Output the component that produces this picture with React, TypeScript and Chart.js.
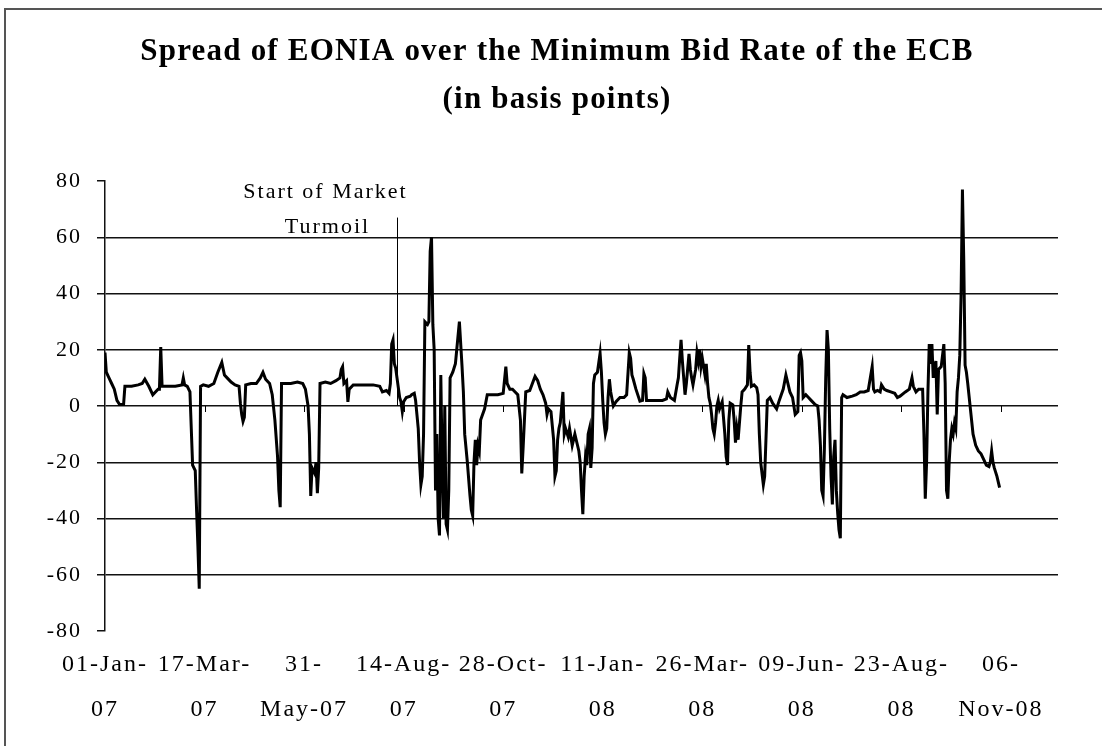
import React, { useEffect, useRef } from "react";
import { Chart, registerables } from "chart.js";

Chart.register(...registerables);

const SERIF = '"Liberation Serif", "Times New Roman", Times, serif';

const chartTitle = ["Spread of EONIA over the Minimum Bid Rate of the ECB", "(in basis points)"];

// days since 01-Jan-2007
const tickDays = [0, 75, 150, 225, 300, 375, 450, 525, 600, 675];
const tickLabels = [
  ["01-Jan-", "07"],
  ["17-Mar-", "07"],
  ["31-", "May-07"],
  ["14-Aug-", "07"],
  ["28-Oct-", "07"],
  ["11-Jan-", "08"],
  ["26-Mar-", "08"],
  ["09-Jun-", "08"],
  ["23-Aug-", "08"],
  ["06-", "Nov-08"],
];
const yMin = -80;
const yMax = 80;
const yStep = 20;
const xMaxDay = 718;

const annotationText = ["Start of Market", "Turmoil"];
const turmoilDay = 220; // 09-Aug-07
const turmoilTop = 67;

// [day since 01-Jan-2007, spread in basis points]
const spread2007: [number, number][] = [
  [0, 19], [1, 12], [3, 10], [5, 8], [7, 6], [9, 2], [11, 0.5], [14, 0.5], [15, 7], [20, 7],
  [25, 7.5], [28, 8], [30, 9.5], [33, 7], [36, 4], [38, 5], [40, 6], [41, 6], [42, 21], [43, 7],
  [48, 7], [53, 7], [58, 7.5], [59, 10], [60, 7.5], [62, 7], [64, 5], [65, -8], [66, -21], [68, -23],
  [69, -37], [70, -50], [71, -65], [72, 7], [74, 7.5], [78, 7], [82, 8], [85, 12], [88, 15.5], [90, 11],
  [92, 10], [95, 8.5], [98, 7.5], [101, 7], [102, 1], [103, -3], [104, -5.5], [105, -4], [106, 7.5], [110, 8],
  [114, 8], [117, 10], [119, 12], [121, 9.5], [124, 8], [126, 4], [128, -5], [130, -18], [131, -30], [132, -36],
  [133, 8], [136, 8], [140, 8], [145, 8.5], [149, 8], [151, 6], [153, 0], [154, -10], [155, -32], [156, -22],
  [158, -24], [159, -20], [160, -31], [161, -22], [162, 8], [166, 8.5], [170, 8], [174, 9], [177, 10], [178, 13],
  [179, 14], [180, 8], [182, 9], [183, 1.5], [184, 6], [187, 7.5], [192, 7.5], [197, 7.5], [202, 7.5], [207, 7],
  [209, 5], [212, 5.5], [214, 4.5], [215, 8], [216, 22], [217, 23.5], [218, 15], [219, 13.5], [220, 10], [222, 3],
  [223, 1.5], [224, -2], [225, 1.5], [227, 3], [230, 3.5], [231, 4], [233, 4.5], [234, 2], [235, -3], [236, -8],
  [237, -20], [238, -28], [239, -25], [240, -10], [241, 30], [243, 29], [244, 30], [245, 55], [246, 60], [247, 29],
  [248, 20], [249, -30], [250, -10], [251, -40], [252, -46], [253, 11], [254, -20], [255, -40], [256, 0], [257, -42],
  [258, -44], [259, -30], [260, 10], [262, 12], [264, 15], [265, 20], [267, 30], [268, 22], [269, 14], [270, 5],
  [271, -10], [272, -15], [273, -20], [275, -32], [276, -37], [277, -39], [278, -20], [279, -12], [280, -21], [281, -14],
  [282, -16], [283, -5], [286, -1], [288, 4], [292, 4], [296, 4], [300, 4.5], [302, 14], [303, 8], [305, 6],
  [307, 6], [309, 5], [311, 4], [313, -5], [314, -24], [315, -15], [317, 5], [320, 5.5], [322, 8], [324, 10.5],
  [326, 9], [328, 6], [330, 4], [332, 1], [333, -3], [334, -1], [336, -2], [338, -12], [339, -25], [340, -23],
  [341, -12], [342, -8], [343, -6], [345, 5], [346, -10], [347, -8], [349, -11], [350, -8], [352, -14], [354, -10],
  [355, -12], [357, -16], [358, -20], [359, -30], [360, -38.5], [361, -25], [362, -18], [363, -21], [364, -10],
];

const spread2008: [number, number][] = [
  [365, -8], [366, -22], [367, -15], [368, 8], [369, 11], [371, 12], [373, 18.7], [374, 12], [375, 2], [376, -6],
  [377, -10], [378, -8], [379, 3], [380, 9.5], [381, 5], [383, 0], [385, 1.5], [388, 3], [391, 3], [393, 4],
  [395, 19], [396, 17], [397, 11], [398, 9.5], [400, 6], [403, 1.7], [405, 2], [406, 11.5], [407, 10], [408, 2],
  [412, 2], [416, 2], [420, 2], [423, 2.5], [424, 5], [426, 3], [429, 2], [431, 7.5], [432, 10], [433, 17],
  [434, 23.5], [435, 16], [437, 4], [438, 8], [440, 18.5], [441, 13], [442, 10], [443, 7.5], [445, 13], [446, 19],
  [447, 16], [448, 20], [449, 14], [450, 17], [452, 11], [453, 15], [454, 8], [455, 3], [456, 1], [457, -3],
  [458, -8], [459, -10], [460, -6], [461, 0], [462, 2], [463, -1], [465, 1.5], [467, -10], [468, -18], [469, -21],
  [470, -5], [471, 1], [473, 0.4], [474, -5], [475, -13], [476, -8], [477, -12], [478, -6], [479, 0], [480, 5],
  [482, 6], [484, 7.5], [485, 21.7], [486, 12], [487, 7], [489, 7.5], [491, 6.5], [492, 4], [493, -10], [494, -20],
  [496, -28], [497, -25], [499, 2], [501, 3], [503, 1], [506, -1], [508, 2], [511, 6], [513, 11], [514, 9],
  [516, 5], [518, 3], [520, -3], [522, -2], [523, 18], [524, 19], [525, 16], [526, 3], [528, 4], [530, 3],
  [532, 2], [535, 0.5], [537, 0], [538, -5], [539, -14], [540, -30], [541, -32], [542, -15], [543, 10], [544, 27],
  [545, 20], [546, -8], [547, -25], [548, -35], [549, -18], [550, -12], [551, -30], [552, -38], [553, -44], [554, -47],
  [555, 3], [556, 4], [559, 3], [563, 3.5], [566, 4], [569, 5], [572, 5], [575, 5.5], [578, 14], [579, 6],
  [580, 5], [582, 5.5], [584, 5], [585, 7.5], [587, 6], [589, 5.5], [592, 5], [595, 4.5], [597, 3], [599, 3.5],
  [603, 5], [606, 6], [608, 10], [609, 7], [611, 5], [613, 6], [616, 6], [617, -10], [618, -33], [619, -20],
  [620, 5], [621, 22], [622, 15], [623, 22], [624, 10], [625, 13], [626, 16], [627, -3], [628, 13], [630, 14],
  [632, 22], [633, 8], [634, -30], [635, -33], [636, -20], [637, -12], [638, -8], [639, -10], [640, -6], [641, -8],
  [642, 5], [643, 10], [644, 18], [645, 40], [646, 77], [647, 52], [648, 14.5], [649, 12], [650, 8], [652, -1],
  [654, -10], [656, -14], [658, -16], [660, -17], [662, -19], [664, -21], [666, -21.5], [667, -20], [668, -16], [669, -20],
  [670, -22], [672, -25], [674, -29],
];

const LETTER_SPACING = "2px";

const framePlugin = {
  id: "frameAndSpacing",
  beforeUpdate(chart: any) {
    chart.ctx.letterSpacing = LETTER_SPACING;
  },
  beforeDraw(chart: any) {
    const ctx = chart.ctx;
    ctx.letterSpacing = LETTER_SPACING;
    ctx.save();
    ctx.strokeStyle = "#555";
    ctx.lineWidth = 2;
    ctx.strokeRect(5, 9, 1300, 900);
    // title
    ctx.fillStyle = "#000";
    ctx.font = `bold 31px ${SERIF}`;
    ctx.letterSpacing = "1.2px";
    ctx.textAlign = "center";
    ctx.textBaseline = "middle";
    ctx.fillText(chartTitle[0], 557, 52);
    ctx.fillText(chartTitle[1], 557, 100);
    ctx.restore();
  },
};

const overlayPlugin = {
  id: "overlay",
  afterDatasetsDraw(chart: any) {
    const { ctx } = chart;
    const xs = chart.scales.x;
    const ys = chart.scales.y;
    const y0 = ys.getPixelForValue(0);
    ctx.save();
    ctx.strokeStyle = "#000";
    ctx.lineWidth = 1;
    tickDays.forEach((d, i) => {
      if (i === 0) return;
      const px = Math.round(xs.getPixelForValue(d)) + 0.5;
      ctx.beginPath();
      ctx.moveTo(px, y0);
      ctx.lineTo(px, y0 + 6);
      ctx.stroke();
    });
    const tx = Math.round(xs.getPixelForValue(turmoilDay)) + 0.5;
    ctx.beginPath();
    ctx.moveTo(tx, ys.getPixelForValue(turmoilTop));
    ctx.lineTo(tx, y0);
    ctx.stroke();
    ctx.fillStyle = "#000";
    ctx.font = `22px ${SERIF}`;
    ctx.letterSpacing = LETTER_SPACING;
    ctx.textAlign = "center";
    ctx.textBaseline = "middle";
    ctx.fillText(annotationText[0], tx - 72, ys.getPixelForValue(76));
    ctx.fillText(annotationText[1], tx - 70, ys.getPixelForValue(63.5));
    ctx.restore();
  },
};

export default function App() {
  const canvasRef = useRef<HTMLCanvasElement | null>(null);

  useEffect(() => {
    document.body.style.margin = "0";
    const canvas = canvasRef.current;
    if (!canvas) return;
    const points = [...spread2007, ...spread2008].map(([d, v]) => ({ x: d, y: v }));
    const chart = new Chart(canvas, {
      type: "line",
      data: {
        datasets: [
          {
            label: "EONIA spread",
            data: points,
            borderColor: "#000",
            borderWidth: 3,
            pointRadius: 0,
            tension: 0,
            fill: false,
          },
        ],
      },
      options: {
        animation: false,
        responsive: false,
        devicePixelRatio: 1,
        layout: { padding: { top: 181, left: 0, right: 44, bottom: 0 } },
        plugins: {
          legend: { display: false },
          tooltip: { enabled: false },
          title: { display: false },
        },
        scales: {
          x: {
            type: "linear",
            min: 0,
            max: xMaxDay,
            grid: { display: false, drawTicks: false },
            border: { display: false },
            afterBuildTicks: (scale: any) => {
              scale.ticks = tickDays.map((v) => ({ value: v }));
            },
            afterFit: (scale: any) => {
              scale.height = 115;
            },
            ticks: {
              autoSkip: false,
              maxRotation: 0,
              minRotation: 0,
              padding: 11,
              color: "#000",
              font: { family: SERIF, size: 24, lineHeight: "45px" },
              callback: (_v: any, i: number) => tickLabels[i],
            },
          },
          y: {
            type: "linear",
            min: yMin,
            max: yMax,
            afterFit: (scale: any) => {
              scale.width = 105;
            },
            grid: {
              color: (c: any) => (c.tick && Math.abs(c.tick.value) === yMax ? "rgba(0,0,0,0)" : "#111"),
              tickColor: "#111",
              lineWidth: 1.5,
              tickLength: 8,
            },
            border: { display: true, color: "#111", width: 1.5 },
            ticks: {
              stepSize: yStep,
              padding: 15,
              color: "#000",
              font: { family: SERIF, size: 22 },
              callback: (v: any) => String(v),
            },
          },
        },
      },
      plugins: [framePlugin, overlayPlugin],
    });
    return () => chart.destroy();
  }, []);

  return (
    <div style={{ position: "fixed", left: 0, top: 0, width: 1102, height: 746, background: "#fff" }}>
      <canvas ref={canvasRef} width={1102} height={746} style={{ display: "block" }} />
    </div>
  );
}
